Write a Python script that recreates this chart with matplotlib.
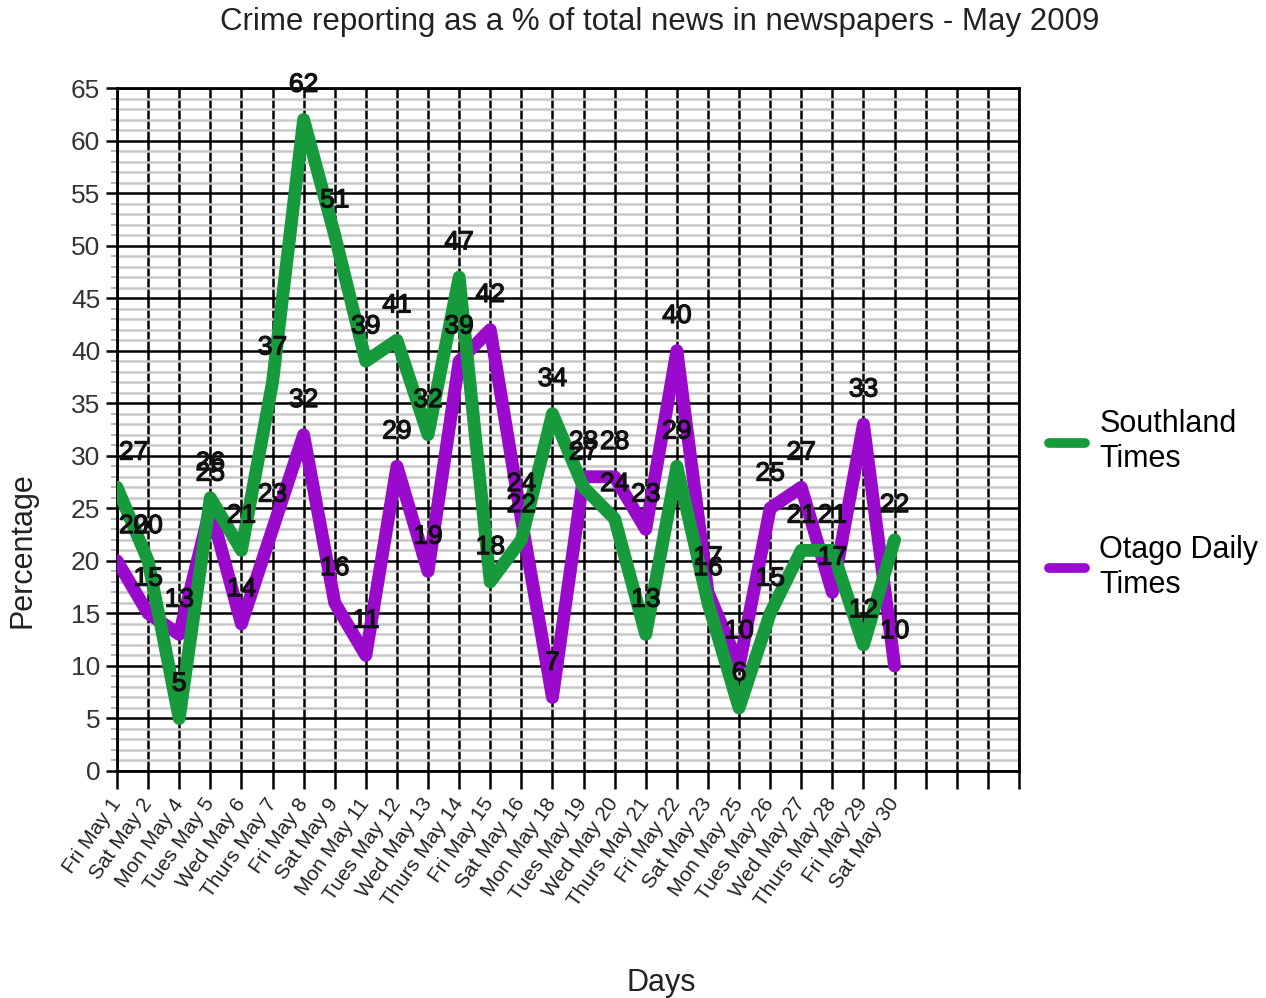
import numpy as np
import matplotlib
matplotlib.use("Agg")
import matplotlib.pyplot as plt
import matplotlib.transforms as mtransforms
import matplotlib.patheffects as pe
from matplotlib.ticker import MultipleLocator

plt.rcParams['font.family'] = ['Liberation Sans', 'DejaVu Sans']

days = ["Fri May 1", "Sat May 2", "Mon May 4", "Tues May 5", "Wed May 6",
        "Thurs May 7", "Fri May 8", "Sat May 9", "Mon May 11", "Tues May 12",
        "Wed May 13", "Thurs May 14", "Fri May 15", "Sat May 16", "Mon May 18",
        "Tues May 19", "Wed May 20", "Thurs May 21", "Fri May 22", "Sat May 23",
        "Mon May 25", "Tues May 26", "Wed May 27", "Thurs May 28", "Fri May 29",
        "Sat May 30"]
southland = [27, 20, 5, 26, 21, 37, 62, 51, 39, 41, 32, 47, 18, 22, 34,
             27, 24, 13, 29, 16, 6, 15, 21, 21, 12, 22]
otago = [20, 15, 13, 25, 14, 23, 32, 16, 11, 29, 19, 39, 42, 24, 7,
         28, 28, 23, 40, 17, 10, 25, 27, 17, 33, 10]
n_slots = 30  # category axis has 4 empty slots after the data

green = '#179a3c'
purple = '#990acc'

fig = plt.figure(figsize=(12.66, 9.98), dpi=100)
ax = fig.add_axes([117/1266, 1-771/998, 902/1266, 683/998])

x = np.arange(len(days))
ax.plot(x, otago, color=purple, lw=9.3, solid_joinstyle='round',
        solid_capstyle='round', zorder=3, label="Otago Daily\nTimes")
ax.plot(x, southland, color=green, lw=9.3, solid_joinstyle='round',
        solid_capstyle='round', zorder=4, label="Southland\nTimes")

thicken = [pe.withStroke(linewidth=0.9, foreground='#111')]
for series in (southland, otago):
    for i, v in enumerate(series):
        dx = 12 if i == 0 else 0
        ax.annotate(str(v), (i, v), xytext=(dx, 25), textcoords='offset points',
                    ha='center', va='center', fontsize=19, color='#111',
                    zorder=6, annotation_clip=False, path_effects=thicken)

ax.set_xlim(0, n_slots - 1)
ax.set_ylim(0, 65)
ax.set_xticks(np.arange(n_slots))
ax.set_xticklabels(days + [''] * (n_slots - len(days)), rotation=55,
                   ha='right', va='center', rotation_mode='anchor', fontsize=15,
                   color='#222')
shift = mtransforms.ScaledTranslation(11/100, 0, fig.dpi_scale_trans)
for lbl in ax.get_xticklabels():
    lbl.set_transform(lbl.get_transform() + shift)
ax.yaxis.set_major_locator(MultipleLocator(5))
ax.yaxis.set_minor_locator(MultipleLocator(1))

ax.grid(which='major', axis='both', color='black', lw=1.8, zorder=1)
ax.grid(which='minor', axis='y', color='#c8c8c8', lw=1.8, zorder=0)
ax.set_axisbelow(True)

ax.tick_params(axis='x', which='major', length=13, width=1.8, pad=8)
ax.tick_params(axis='y', which='major', length=8, width=1.8, labelsize=19,
               labelcolor='#333', pad=4)
ax.tick_params(axis='y', which='minor', length=4, width=1.2, color='#aaa')
for s in ax.spines.values():
    s.set_color('black')
    s.set_linewidth(2)

handles, labels = ax.get_legend_handles_labels()
leg = ax.legend(handles[::-1], labels[::-1], loc='center left',
                bbox_to_anchor=(1.033, 0.39), frameon=False, fontsize=22,
                handlelength=1.2, handletextpad=0.45, labelspacing=2.0,
                borderpad=0, borderaxespad=0)
for h in leg.get_lines():
    h.set_linewidth(7)
    h.set_solid_capstyle('round')

fig.text(660/1266, 1-22/998, "Crime reporting as a % of total news in newspapers - May 2009",
         ha='center', va='center', fontsize=22.5, color='#222')
fig.text(23/1266, 1-550/998, "Percentage", rotation=90, ha='center',
         va='center', fontsize=22, color='#222')
fig.text(661/1266, 1-983/998, "Days", ha='center', va='center', fontsize=22,
         color='#222')

fig.savefig("out.png", dpi=100)
